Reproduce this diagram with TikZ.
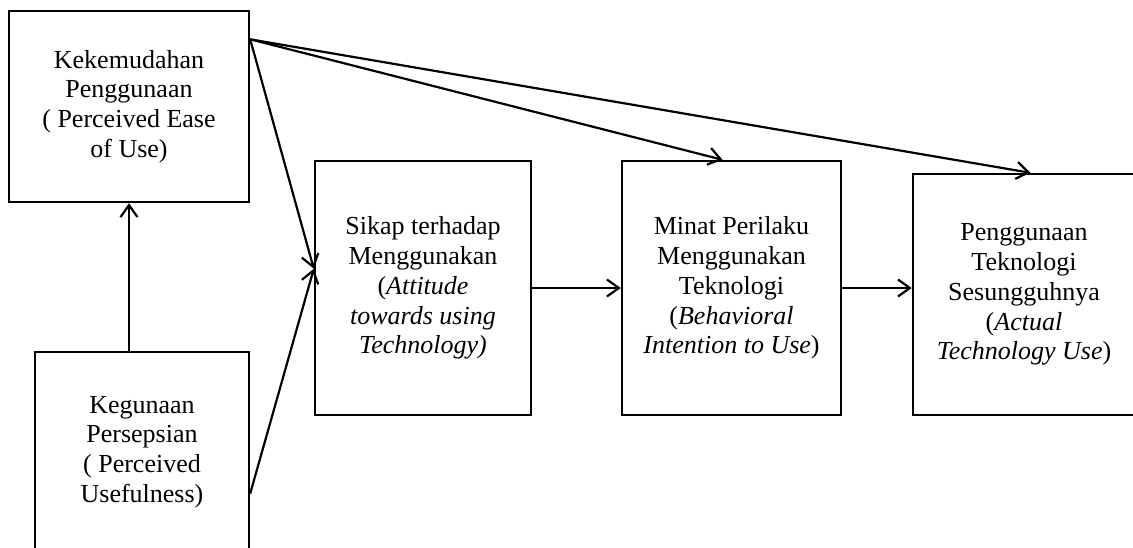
\documentclass[tikz,border=0pt]{standalone}
\usepackage{fontspec}
\setmainfont{Liberation Serif}
\usetikzlibrary{arrows.meta}
\begin{document}
\begin{tikzpicture}[x=1pt,y=-1pt,
  box/.style={draw,line width=2.4pt,align=center,inner sep=0pt,
    font=\fontsize{26}{29.8}\selectfont},
  link/.style={line width=2.2pt,-{Straight Barb[length=12pt,width=17pt,line width=2.2pt]}}]
  \useasboundingbox (0,0) rectangle (1133,547);
  \clip (0,0) rectangle (1133,547);
  % constructs of the acceptance model
  \node[box,minimum width=240pt,minimum height=191pt] (peou) at (129,106.5)
    {Kekemudahan\\Penggunaan\\( Perceived Ease\\of Use)};
  \node[box,minimum width=214pt,minimum height=200pt] (pu) at (142,452)
    {Kegunaan\\Persepsian\\( Perceived\\Usefulness)};
  \node[box,minimum width=216pt,minimum height=254pt] (att) at (423,288)
    {Sikap terhadap\\Menggunakan\\(\textit{Attitude}\\\textit{towards using}\\\textit{Technology)}};
  \node[box,minimum width=219pt,minimum height=254pt] (bi) at (731.5,288)
    {Minat Perilaku\\Menggunakan\\Teknologi\\(\textit{Behavioral}\\\textit{Intention to Use})};
  \node[box,minimum width=222pt,minimum height=241pt] (atu) at (1024,294.5)
    {Penggunaan\\Teknologi\\Sesungguhnya\\(\textit{Actual}\\\textit{Technology Use})};
  % relations
  \draw[link] (peou.south |- pu.north) -- (peou.south);
  \draw[link] (peou.29.7) -- (att.170.5);
  \draw[link] (pu.-21) -- (att.170.5);
  \draw[link] (peou.29.7) -- (bi.94.3);
  \draw[link] (peou.29.7) -- (atu.87.6);
  \draw[link] (att.east) -- (bi.west);
  \draw[link] (bi.east) -- (atu.west |- bi.east);
\end{tikzpicture}
\end{document}
